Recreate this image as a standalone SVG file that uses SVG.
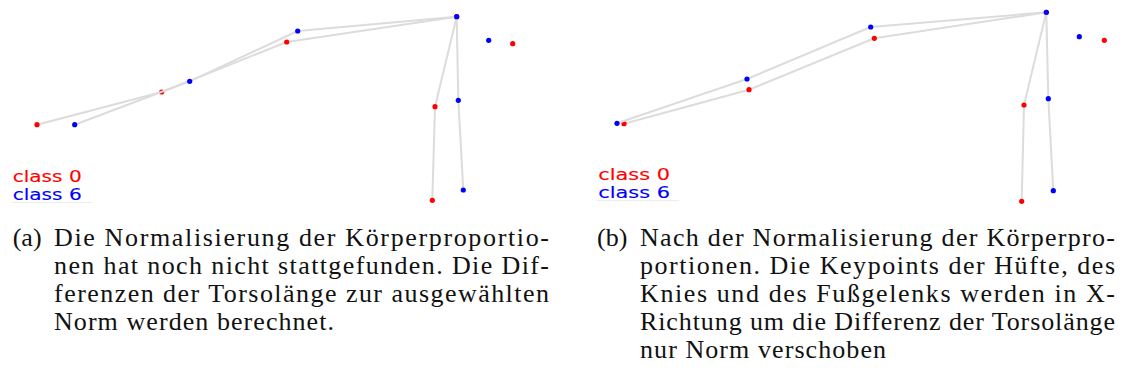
<svg xmlns="http://www.w3.org/2000/svg" width="1128" height="376" viewBox="0 0 1128 376">
  <defs>
    <style>
      .bone { stroke: #dcdcdc; stroke-width: 2; fill: none; stroke-linejoin: round; stroke-linecap: round; }
      .kr { fill: #ff0000; }
      .kb { fill: #0000ff; }
      .legend { font-family: "DejaVu Sans", "Liberation Sans", sans-serif; font-size: 15px; stroke-width: 0.12; }
      .lr { fill: #ff0000; stroke: #ff0000; }
      .lb { fill: #0000ff; stroke: #0000ff; }
      .edge { stroke: #ececec; stroke-width: 1; }
      .cap { font-family: "Liberation Serif", "DejaVu Serif", serif; font-size: 26px; fill: #111; }
    </style>
  </defs>
  <rect width="1128" height="376" fill="#ffffff"/>

  <!-- Panel (a): skeletons before normalisation -->
  <g id="panel-a">
    <g id="a-class0">
      <g id="a-class0-bones">
        <polyline class="bone" points="37,124.7 161.7,92 286.7,42 456.7,16.7 435,106.7 432.3,200.3"/>
      </g>
      <g id="a-class0-joints">
        <circle class="kr" cx="37" cy="124.7" r="2.6"/>
        <circle class="kr" cx="161.7" cy="92" r="2.6"/>
        <circle class="kr" cx="286.7" cy="42" r="2.6"/>
        <circle class="kr" cx="456.7" cy="16.7" r="2.6"/>
        <circle class="kr" cx="435" cy="106.7" r="2.6"/>
        <circle class="kr" cx="432.3" cy="200.3" r="2.6"/>
        <circle class="kr" cx="512.7" cy="43.7" r="2.6"/>
      </g>
    </g>
    <g id="a-class6">
      <g id="a-class6-bones">
        <polyline class="bone" points="74.7,124.7 189.7,81.3 297.7,31 456.7,16.7 458.3,100.3 463.3,190"/>
      </g>
      <g id="a-class6-joints">
        <circle class="kb" cx="74.7" cy="124.7" r="2.6"/>
        <circle class="kb" cx="189.7" cy="81.3" r="2.6"/>
        <circle class="kb" cx="297.7" cy="31" r="2.6"/>
        <circle class="kb" cx="456.7" cy="16.7" r="2.6"/>
        <circle class="kb" cx="458.3" cy="100.3" r="2.6"/>
        <circle class="kb" cx="463.3" cy="190" r="2.6"/>
        <circle class="kb" cx="488.7" cy="40.3" r="2.6"/>
      </g>
    </g>
    <g id="a-legend">
      <text class="legend lr" x="12.7" y="182.3" textLength="69" lengthAdjust="spacingAndGlyphs">class 0</text>
      <text class="legend lb" x="12.7" y="200" textLength="69" lengthAdjust="spacingAndGlyphs">class 6</text>
      <line class="edge" x1="11.7" y1="202.5" x2="92.7" y2="202.5"/>
    </g>
  </g>

  <!-- Panel (b): skeletons after normalisation -->
  <g id="panel-b">
    <g id="b-class0">
      <g id="b-class0-bones">
        <polyline class="bone" points="624,123.7 749,89.7 874.3,38.3 1046.3,12.3 1024,105 1021.7,201.3"/>
      </g>
      <g id="b-class0-joints">
        <circle class="kr" cx="624" cy="123.7" r="2.6"/>
        <circle class="kr" cx="749" cy="89.7" r="2.6"/>
        <circle class="kr" cx="874.3" cy="38.3" r="2.6"/>
        <circle class="kr" cx="1046.3" cy="12.3" r="2.6"/>
        <circle class="kr" cx="1024" cy="105" r="2.6"/>
        <circle class="kr" cx="1021.7" cy="201.3" r="2.6"/>
        <circle class="kr" cx="1104.3" cy="40.3" r="2.6"/>
      </g>
    </g>
    <g id="b-class6">
      <g id="b-class6-bones">
        <polyline class="bone" points="617,123.3 747,79 870.7,27 1046.3,12.3 1048.3,98.7 1053.3,190.7"/>
      </g>
      <g id="b-class6-joints">
        <circle class="kb" cx="617" cy="123.3" r="2.6"/>
        <circle class="kb" cx="747" cy="79" r="2.6"/>
        <circle class="kb" cx="870.7" cy="27" r="2.6"/>
        <circle class="kb" cx="1046.3" cy="12.3" r="2.6"/>
        <circle class="kb" cx="1048.3" cy="98.7" r="2.6"/>
        <circle class="kb" cx="1053.3" cy="190.7" r="2.6"/>
        <circle class="kb" cx="1079.3" cy="36.7" r="2.6"/>
      </g>
    </g>
    <g id="b-legend">
      <text class="legend lr" x="598.3" y="180" textLength="71.7" lengthAdjust="spacingAndGlyphs">class 0</text>
      <text class="legend lb" x="598.3" y="197.7" textLength="71.7" lengthAdjust="spacingAndGlyphs">class 6</text>
      <line class="edge" x1="596.7" y1="200.5" x2="679.3" y2="200.5"/>
    </g>
  </g>

  <!-- Captions -->
  <g id="caption-a">
    <text class="cap" x="12.7" y="245.5">(a)</text>
    <text class="cap" x="54" y="245.5" textLength="495" lengthAdjust="spacing">Die Normalisierung der Körperproportio-</text>
    <text class="cap" x="54" y="273.5" textLength="495" lengthAdjust="spacing">nen hat noch nicht stattgefunden. Die Dif-</text>
    <text class="cap" x="54" y="301.5" textLength="495" lengthAdjust="spacing">ferenzen der Torsolänge zur ausgewählten</text>
    <text class="cap" x="54" y="329.5" textLength="280" lengthAdjust="spacing">Norm werden berechnet.</text>
  </g>
  <g id="caption-b">
    <text class="cap" x="597" y="245.5">(b)</text>
    <text class="cap" x="640" y="245.5" textLength="475" lengthAdjust="spacing">Nach der Normalisierung der Körperpro-</text>
    <text class="cap" x="640" y="273.5" textLength="475" lengthAdjust="spacing">portionen. Die Keypoints der Hüfte, des</text>
    <text class="cap" x="640" y="301.5" textLength="475" lengthAdjust="spacing">Knies und des Fußgelenks werden in X-</text>
    <text class="cap" x="640" y="329.5" textLength="475" lengthAdjust="spacing">Richtung um die Differenz der Torsolänge</text>
    <text class="cap" x="640" y="357.5" textLength="246" lengthAdjust="spacing">nur Norm verschoben</text>
  </g>
</svg>
